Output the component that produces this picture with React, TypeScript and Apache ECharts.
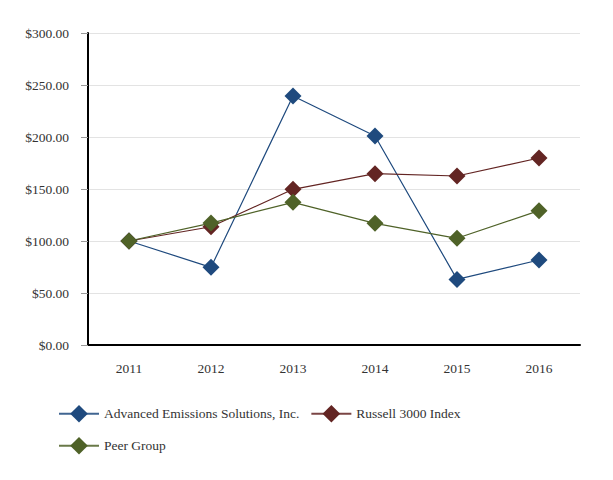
import React, { useEffect, useRef } from "react";
import * as echarts from "echarts";

const categories = ["2011", "2012", "2013", "2014", "2015", "2016"];
const aesValues = [100, 74.7, 239.4, 201, 63.1, 81.7];
const russellValues = [100, 113.7, 149.7, 164.7, 162.5, 179.8];
const peerValues = [100, 117.2, 137.2, 117, 102.6, 129.2];
const yTicks = { min: 0, max: 300, interval: 50 };

const FONT = "Liberation Serif";
const FS = 13.5;
const TEXT = "#333";

export default function App() {
  const ref = useRef<HTMLDivElement>(null);
  useEffect(() => {
    if (!ref.current) return;
    const chart = echarts.init(ref.current, undefined, { renderer: "svg" });
    const mkSeries = (name: string, data: number[], color: string) => ({
      name,
      type: "line",
      data,
      symbol: "diamond",
      symbolSize: 17,
      itemStyle: { color },
      lineStyle: { color, width: 1.2 },
    });
    const legendText = { fontFamily: FONT, fontSize: FS, color: TEXT };
    chart.setOption({
      animation: false,
      backgroundColor: "#ffffff",
      textStyle: { fontFamily: FONT },
      grid: { left: 88, right: 33, top: 33, bottom: 135 },
      legend: [
        {
          left: 53,
          top: 400,
          itemWidth: 40,
          itemHeight: 22,
          itemGap: 11,
          data: ["Advanced Emissions Solutions, Inc.", "Russell 3000 Index"],
          textStyle: legendText,
          lineStyle: { width: 2, opacity: 0.85 },
        },
        {
          left: 53,
          top: 432,
          itemWidth: 40,
          itemHeight: 22,
          data: ["Peer Group"],
          textStyle: legendText,
          lineStyle: { width: 2, opacity: 0.85 },
        },
      ],
      xAxis: {
        type: "category",
        data: categories,
        boundaryGap: true,
        axisLine: { lineStyle: { color: "#000", width: 2 } },
        axisTick: { alignWithLabel: true, length: 5, lineStyle: { color: "#999" } },
        axisLabel: { fontFamily: FONT, fontSize: FS, color: TEXT, margin: 16 },
      },
      yAxis: {
        type: "value",
        min: yTicks.min,
        max: yTicks.max,
        interval: yTicks.interval,
        axisLine: { show: true, lineStyle: { color: "#000", width: 2 } },
        axisTick: { show: true, length: 7, lineStyle: { color: "#999" } },
        axisLabel: {
          fontFamily: FONT,
          fontSize: FS,
          color: TEXT,
          margin: 19,
          formatter: (v: number) => "$" + v.toFixed(2),
        },
        splitLine: { lineStyle: { color: "#e3e3e3" } },
      },
      series: [
        mkSeries("Advanced Emissions Solutions, Inc.", aesValues, "#1f4a7e"),
        mkSeries("Russell 3000 Index", russellValues, "#632523"),
        mkSeries("Peer Group", peerValues, "#4f6228"),
      ],
    });
    return () => chart.dispose();
  }, []);
  return (
    <div
      ref={ref}
      style={{ position: "fixed", left: 0, top: 0, width: 613, height: 480 }}
    />
  );
}
